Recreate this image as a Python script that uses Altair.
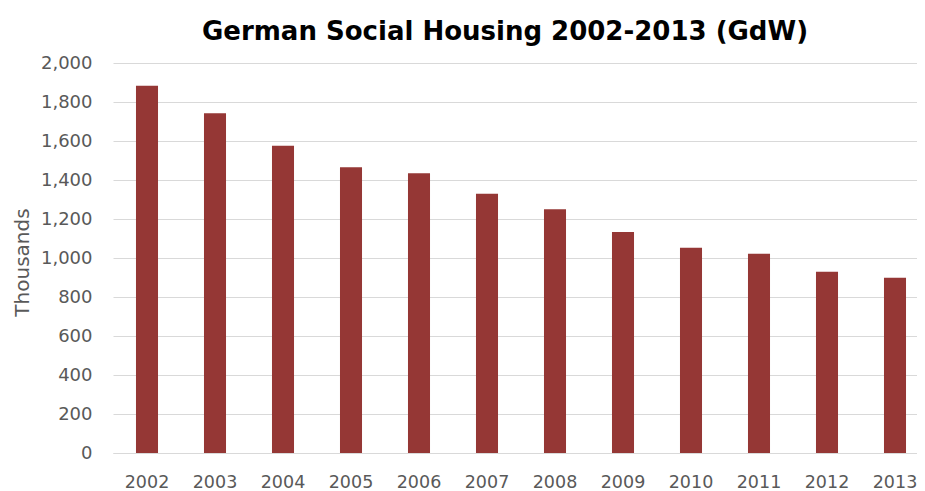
import altair as alt
import pandas as pd

years = ["2002", "2003", "2004", "2005", "2006", "2007",
         "2008", "2009", "2010", "2011", "2012", "2013"]
values = [1883, 1742, 1576, 1465, 1434, 1330, 1250, 1133, 1053, 1022, 930, 899]
y_ticks = [0, 200, 400, 600, 800, 1000, 1200, 1400, 1600, 1800, 2000]

df = pd.DataFrame({"year": years, "value": values})

FONT = "DejaVu Sans"
GRAY = "#595959"

chart = alt.Chart(df).mark_bar(color="#953735").encode(
    x=alt.X(
        "year:N", sort=None, title=None,
        scale=alt.Scale(range=[0, 816], paddingInner=0.676, paddingOuter=0.338),
        axis=alt.Axis(labelAngle=0, ticks=False, labelPadding=20, labelFont=FONT,
                      labelFontSize=17.5, labelColor=GRAY, domainColor="#d9d9d9",
                      domainWidth=1, grid=False),
    ),
    y=alt.Y(
        "value:Q", title="Thousands",
        scale=alt.Scale(domain=[0, 2000], nice=False),
        axis=alt.Axis(values=y_ticks, format=",d", ticks=False, domain=False,
                      labelPadding=21, labelFont=FONT, labelFontSize=18,
                      labelColor=GRAY, gridColor="#d9d9d9", gridWidth=1,
                      titleFont=FONT, titleFontSize=20, titleFontWeight="normal",
                      titleColor=GRAY, titleX=-91, titleY=199, titleAngle=270,
                      titleAlign="center", titleBaseline="middle"),
    ),
).properties(
    width=804, height=390,
    title=alt.TitleParams(text="German Social Housing 2002-2013 (GdW)", font=FONT,
                          fontSize=26, fontWeight="bold", color="black",
                          anchor="middle", dx=-10, offset=9),
    autosize=alt.AutoSizeParams(type="none"),
    padding={"left": 105, "top": 55, "right": 0, "bottom": 38},
).configure_view(stroke=None)

chart.save("out.html", embed_options={"renderer": "svg", "actions": False})
